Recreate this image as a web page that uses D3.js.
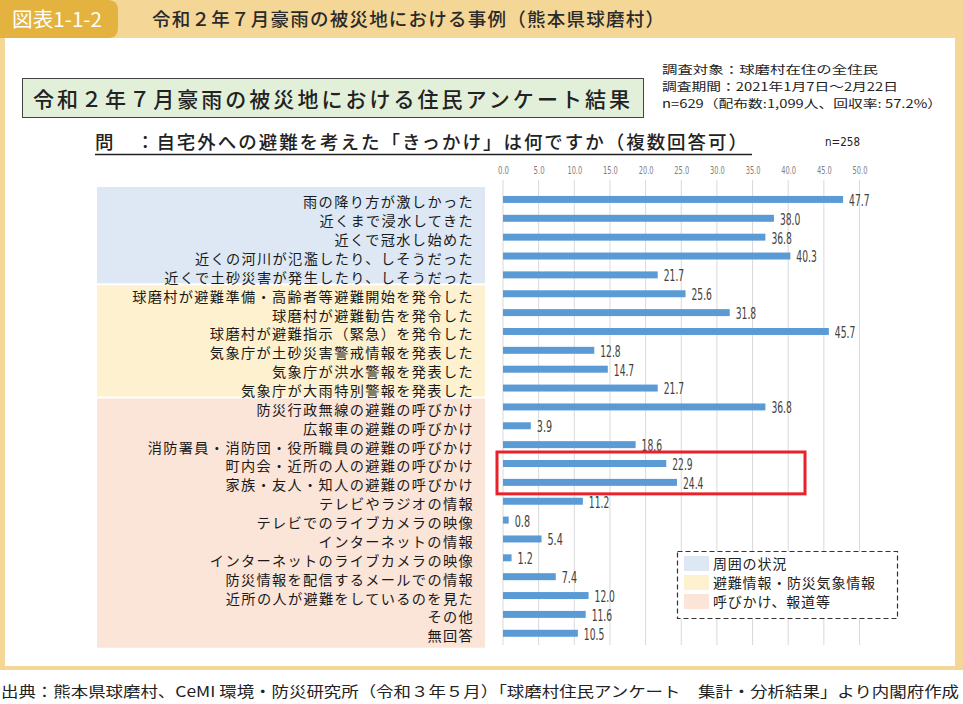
<!DOCTYPE html>
<html><head><meta charset="utf-8">
<script src="https://cdn.jsdelivr.net/npm/d3@7"></script>
<style>
html,body{margin:0;padding:0;background:#fff;}
svg{display:block;}
text{font-family:"Noto Sans CJK JP","Noto Sans",sans-serif;}
.num{font-family:"Liberation Sans Narrow","DejaVu Sans Condensed","Roboto",sans-serif;}
</style></head>
<body>
<svg id="chart" width="963" height="704"></svg>
<script>
// ---- data ----
const categories = [
  "雨の降り方が激しかった",
  "近くまで浸水してきた",
  "近くで冠水し始めた",
  "近くの河川が氾濫したり、しそうだった",
  "近くで土砂災害が発生したり、しそうだった",
  "球磨村が避難準備・高齢者等避難開始を発令した",
  "球磨村が避難勧告を発令した",
  "球磨村が避難指示（緊急）を発令した",
  "気象庁が土砂災害警戒情報を発表した",
  "気象庁が洪水警報を発表した",
  "気象庁が大雨特別警報を発表した",
  "防災行政無線の避難の呼びかけ",
  "広報車の避難の呼びかけ",
  "消防署員・消防団・役所職員の避難の呼びかけ",
  "町内会・近所の人の避難の呼びかけ",
  "家族・友人・知人の避難の呼びかけ",
  "テレビやラジオの情報",
  "テレビでのライブカメラの映像",
  "インターネットの情報",
  "インターネットのライブカメラの映像",
  "防災情報を配信するメールでの情報",
  "近所の人が避難をしているのを見た",
  "その他",
  "無回答"
];
const values = [47.7,38.0,36.8,40.3,21.7,25.6,31.8,45.7,12.8,14.7,21.7,36.8,3.9,18.6,22.9,24.4,11.2,0.8,5.4,1.2,7.4,12.0,11.6,10.5];
const groupNames = ["周囲の状況","避難情報・防災気象情報","呼びかけ、報道等"];
const groupSizes = [5,6,13];
const groupColors = ["#dde8f4","#fdf1cf","#fbe4d8"];
const xTicks = [0,5,10,15,20,25,30,35,40,45,50];
const highlighted = ["町内会・近所の人の避難の呼びかけ","家族・友人・知人の避難の呼びかけ"];

const svg = d3.select("#chart");
const gold = "#f4d696";

// ---- frame / header ----
svg.append("rect").attr("x",0).attr("y",0).attr("width",963).attr("height",670).attr("fill",gold);
svg.append("rect").attr("x",5).attr("y",38).attr("width",950).attr("height",628).attr("fill","#fff");
svg.append("path").attr("d","M0,0 H108 Q118,0 118,10 V28 Q118,38 108,38 H0 Z").attr("fill","#e4b23e");
svg.append("text").attr("x",12).attr("y",27).attr("fill","#fff").attr("font-size",20)
  .attr("textLength",90).attr("lengthAdjust","spacingAndGlyphs").text("図表1-1-2");
svg.append("text").attr("x",152).attr("y",26).attr("fill","#2a2a2a").attr("font-size",18.5).attr("font-weight",500)
  .attr("textLength",512).attr("lengthAdjust","spacing").text("令和２年７月豪雨の被災地における事例（熊本県球磨村）");

// ---- titles ----
svg.append("rect").attr("x",22.5).attr("y",78.5).attr("width",621).attr("height",39)
  .attr("fill","#e2efd9").attr("stroke","#444").attr("stroke-width",1);
svg.append("text").attr("x",33).attr("y",107).attr("fill","#222").attr("font-size",21).attr("font-weight",500)
  .attr("textLength",597).attr("lengthAdjust","spacing").text("令和２年７月豪雨の被災地における住民アンケート結果");
svg.append("text").attr("x",95).attr("y",149).attr("fill","#222").attr("font-size",18.5).attr("font-weight",500)
  .attr("textLength",652).attr("lengthAdjust","spacing").text("問　：自宅外への避難を考えた「きっかけ」は何ですか（複数回答可）");
svg.append("line").attr("x1",95).attr("x2",752).attr("y1",154.5).attr("y2",154.5).attr("stroke","#222").attr("stroke-width",1.3);

const info = [["調査対象：球磨村在住の全住民",74,216],["調査期間：2021年1月7日～2月22日",91,236],["n=629（配布数:1,099人、回収率: 57.2%）",108,280]];
svg.selectAll("text.info").data(info).join("text").attr("class","info")
  .attr("x",662).attr("y",d=>d[1]).attr("fill","#222").attr("font-size",11.6)
  .attr("textLength",d=>d[2]).attr("lengthAdjust","spacingAndGlyphs").text(d=>d[0]);
svg.append("text").attr("class","num").attr("x",825).attr("y",146).attr("fill","#222").attr("font-size",13)
  .attr("textLength",35).attr("lengthAdjust","spacingAndGlyphs").text("n=258");

// ---- scales ----
const x = d3.scaleLinear().domain([0,50]).range([503,859.5]);
const y = d3.scaleBand().domain(categories).range([190,642.7]).paddingInner(0.63).paddingOuter(0.315);
const step = y.step(), bw = y.bandwidth();
const cy = c => y(c) + bw/2;

// ---- group backgrounds ----
let start = 0;
groupSizes.forEach((n,i)=>{
  const first = categories[start], last = categories[start+n-1];
  let top = cy(first) - step/2 + (i===0 ? -3 : 1);
  let bot = cy(last) + step/2 + (i===groupSizes.length-1 ? 5 : -1);
  svg.append("rect").attr("x",97).attr("y",top).attr("width",388).attr("height",bot-top).attr("fill",groupColors[i]);
  start += n;
});

// ---- grid + axis ----
const grid = svg.append("g");
grid.selectAll("line").data(xTicks).join("line")
  .attr("x1",d=>x(d)).attr("x2",d=>x(d)).attr("y1",180).attr("y2",645)
  .attr("stroke","#d9d9d9").attr("stroke-width",1);
const axis = svg.append("g").attr("transform","translate(0,177)")
  .call(d3.axisTop(x).tickValues(xTicks).tickSize(0).tickFormat(d3.format(".1f")));
axis.select(".domain").remove();
axis.selectAll("text").attr("class","num").attr("font-size",10.5).attr("fill","#7f7f7f")
  .attr("font-family","'Liberation Sans Narrow','DejaVu Sans Condensed',sans-serif")
  .attr("textLength",function(){return this.textContent.length*3.7;}).attr("lengthAdjust","spacingAndGlyphs");

// ---- bars ----
svg.append("g").selectAll("rect").data(categories).join("rect")
  .attr("x",x(0)).attr("y",d=>y(d)).attr("height",bw)
  .attr("width",(d,i)=>x(values[i])-x(0)).attr("fill","#5b9bd5");
svg.append("g").selectAll("text").data(categories).join("text").attr("class","num")
  .attr("x",(d,i)=>x(values[i])+6).attr("y",d=>cy(d)+1).attr("dy","0.35em")
  .attr("font-size",15.5).attr("fill","#404040")
  .attr("textLength",(d,i)=>values[i].toFixed(1).length*5.1).attr("lengthAdjust","spacingAndGlyphs")
  .text((d,i)=>values[i].toFixed(1));

// ---- category labels ----
svg.append("g").selectAll("text").data(categories).join("text")
  .attr("x",474).attr("y",d=>cy(d)+3).attr("dy","0.35em").attr("text-anchor","end")
  .attr("font-size",14.2).attr("letter-spacing","1.35px").attr("fill","#1a1a1a").text(d=>d);

// ---- highlight box ----
const hTop = y(highlighted[0]) - 8, hBot = y(highlighted[1]) + bw + 8;
svg.append("rect").attr("x",497).attr("y",hTop).attr("width",308).attr("height",hBot-hTop)
  .attr("fill","none").attr("stroke","#e8212a").attr("stroke-width",3);

// ---- legend ----
svg.append("rect").attr("x",677.5).attr("y",551.5).attr("width",220).attr("height",67)
  .attr("fill","#fff").attr("stroke","#333").attr("stroke-dasharray","5,3").attr("stroke-width",1.2);
const lg = svg.append("g").selectAll("g").data(groupNames).join("g")
  .attr("transform",(d,i)=>`translate(684,${556+i*19})`);
lg.append("rect").attr("width",25).attr("height",15).attr("fill",(d,i)=>groupColors[i]);
lg.append("text").attr("x",29).attr("y",8).attr("dy","0.36em").attr("font-size",14).attr("letter-spacing","0.8px")
  .attr("fill","#222").text(d=>d);

// ---- footer ----
svg.append("text").attr("x",1).attr("y",697).attr("font-size",15).attr("fill","#222")
  .attr("textLength",958).attr("lengthAdjust","spacingAndGlyphs")
  .text("出典：熊本県球磨村、CeMI 環境・防災研究所（令和３年５月）「球磨村住民アンケート　集計・分析結果」より内閣府作成");
</script>
</body></html>
